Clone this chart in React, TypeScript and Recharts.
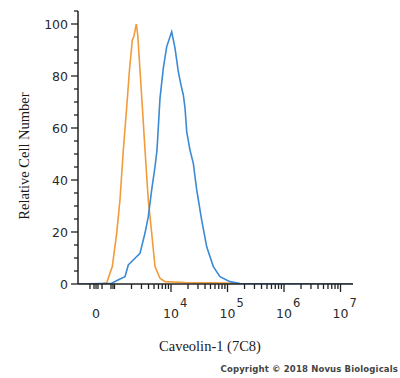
import { LineChart, Line, XAxis, YAxis } from "recharts";

// x values are in decades of the biexponential axis (4 = 10^4), y = relative cell number
const isotypeX = [2.354, 2.743, 2.862, 2.961, 3.039, 3.097, 3.156, 3.212, 3.265, 3.315, 3.345, 3.386, 3.411, 3.451, 3.496, 3.54, 3.598, 3.658, 3.717, 3.805, 3.894, 4.248, 4.75, 5.1, 5.25, 7.221];
const isotypeY = [0, 0, 0.5, 6.7, 19.6, 32.3, 51.5, 66.9, 82.3, 93.8, 95.4, 100, 95.8, 82.3, 66.9, 51.5, 32.3, 19.6, 6.7, 2.2, 0.9, 0.6, 0.5, 0.3, 0, 0];

const caveolinX = [2.354, 2.95, 3.097, 3.186, 3.244, 3.363, 3.451, 3.54, 3.598, 3.658, 3.717, 3.752, 3.805, 3.864, 3.924, 4.012, 4.071, 4.129, 4.177, 4.218, 4.248, 4.278, 4.336, 4.395, 4.455, 4.543, 4.632, 4.749, 4.867, 5.044, 5.221, 7.221];
const caveolinY = [0, 0.3, 1.9, 2.8, 7.3, 9.9, 11.8, 19.6, 25.9, 36.2, 45.1, 51.5, 71.4, 83.0, 91.3, 97.0, 90.7, 81.7, 76.5, 72.7, 67.7, 58.6, 51.5, 46.4, 36.2, 24.6, 14.3, 6.7, 2.8, 0.9, 0.2, 0];

// axis ticks
const xMajor = [4, 5, 6, 7];
const xZero = 2.673;
const xLinearMinor = [2.566, 2.637, 2.708, 2.779, 2.938, 2.973, 3];
const xLogMinor = [3, 4, 5, 6].flatMap((d) =>
  [2, 3, 4, 5, 6, 7, 8, 9].map((k) => d + Math.log10(k))
);
const xTicks = [...xLinearMinor, xZero, ...xLogMinor, ...xMajor].sort((a, b) => a - b);

const yTicks = [0, 5, 10, 15, 20, 25, 30, 35, 40, 45, 50, 55, 60, 65, 70, 75, 80, 85, 90, 95, 100, 105];
const yLabels = [0, 20, 40, 60, 80, 100];

const isotype = isotypeX.map((u, i) => ({ u, v: isotypeY[i] }));
const caveolin = caveolinX.map((u, i) => ({ u, v: caveolinY[i] }));

const tickFont = "'DejaVu Sans', Verdana, sans-serif";
const titleFont = "'Liberation Serif', 'Times New Roman', serif";

function XTick(props: any) {
  const { x, y, payload } = props;
  const value = payload.value;
  const major = xMajor.includes(value);
  const isZero = Math.abs(value - xZero) < 1e-6;
  const len = major ? 8 : 5;
  return (
    <g>
      <line x1={x} x2={x} y1={y} y2={y + len} stroke="#222" strokeWidth={1.3} />
      {major && (
        <>
          <text x={x} y={318} textAnchor="middle" fontSize={12.5} fontFamily={tickFont} fill="#2a2a2a">
            10
          </text>
          <text x={x + 9} y={307} textAnchor="start" fontSize={11.5} fontFamily={tickFont} fill="#2a2a2a">
            {value}
          </text>
        </>
      )}
      {isZero && (
        <text x={x} y={318} textAnchor="middle" fontSize={12.5} fontFamily={tickFont} fill="#2a2a2a">
          0
        </text>
      )}
    </g>
  );
}

function YTick(props: any) {
  const { x, y, payload } = props;
  const major = yLabels.includes(payload.value);
  const len = major ? 7 : 4;
  return (
    <g>
      <line x1={x - len} x2={x} y1={y} y2={y} stroke="#222" strokeWidth={1.3} />
      {major && (
        <text x={x - 10} y={y} dy="0.36em" textAnchor="end" fontSize={12.5} fontFamily={tickFont} fill="#2a2a2a">
          {payload.value}
        </text>
      )}
    </g>
  );
}

function XTitle() {
  return (
    <g>
      <text x={210} y={351} textAnchor="middle" fontSize={14.5} fontFamily={titleFont} fill="#1a1a1a">
        Caveolin-1 (7C8)
      </text>
      <text
        x={398}
        y={372}
        textAnchor="end"
        fontSize={8.5}
        fontWeight="bold"
        letterSpacing={0.15}
        fontFamily={tickFont}
        fill="#444"
      >
        Copyright © 2018 Novus Biologicals
      </text>
    </g>
  );
}

function YTitle() {
  return (
    <text
      x={29}
      y={156}
      transform="rotate(-90 29 156)"
      textAnchor="middle"
      fontSize={14.5}
      fontFamily={titleFont}
      fill="#1a1a1a"
    >
      Relative Cell Number
    </text>
  );
}

export default function App() {
  return (
    <div style={{ position: "absolute", left: 0, top: 0, width: 400, height: 378, background: "#fff" }}>
      <LineChart width={400} height={378} margin={{ top: 11, right: 47, bottom: 64, left: 18 }}>
        <XAxis
          type="number"
          dataKey="u"
          domain={[2.354, 7.221]}
          allowDataOverflow
          ticks={xTicks}
          interval={0}
          tick={<XTick />}
          tickLine={false}
          tickSize={0}
          tickMargin={0}
          height={30}
          axisLine={{ stroke: "#222", strokeWidth: 1.5 }}
          label={<XTitle />}
        />
        <YAxis
          type="number"
          dataKey="v"
          domain={[0, 105]}
          allowDataOverflow
          ticks={yTicks}
          interval={0}
          tick={<YTick />}
          tickLine={false}
          tickSize={0}
          tickMargin={0}
          width={60}
          axisLine={{ stroke: "#222", strokeWidth: 1.5 }}
          label={<YTitle />}
        />
        <Line
          data={isotype}
          dataKey="v"
          type="linear"
          stroke="#f29b3a"
          strokeWidth={1.6}
          dot={false}
          activeDot={false}
          isAnimationActive={false}
        />
        <Line
          data={caveolin}
          dataKey="v"
          type="linear"
          stroke="#3a8ad6"
          strokeWidth={1.6}
          dot={false}
          activeDot={false}
          isAnimationActive={false}
        />
      </LineChart>
    </div>
  );
}
